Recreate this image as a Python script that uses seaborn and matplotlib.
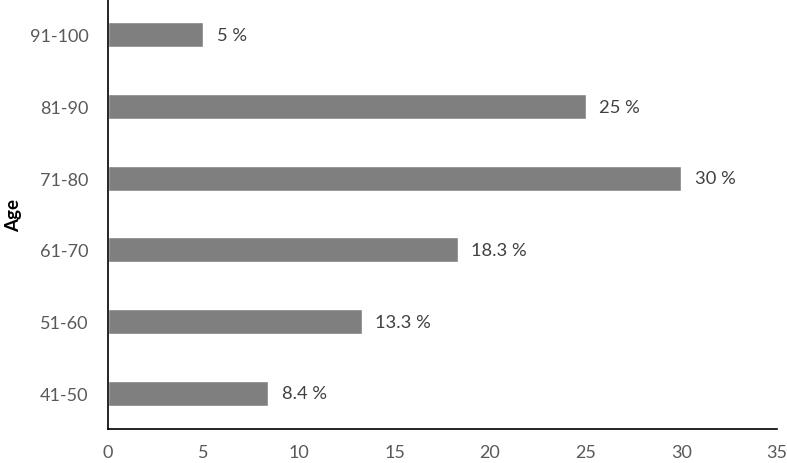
import matplotlib
matplotlib.use("Agg")
import matplotlib.pyplot as plt
import seaborn as sns
import pandas as pd

# Age groups and share of respondents (%)
age_groups = ['91-100', '81-90', '71-80', '61-70', '51-60', '41-50']
shares = [5, 25, 30, 18.3, 13.3, 8.4]
bar_labels = ['5 %', '25 %', '30 %', '18.3 %', '13.3 %', '8.4 %']

df = pd.DataFrame({'Age': age_groups, 'Share': shares})

sns.set_theme(style='white')
plt.rcParams['font.family'] = ['Lato', 'DejaVu Sans']

fig = plt.figure(figsize=(7.87, 4.64), dpi=100)
ax = fig.add_axes([0.137, 0.073, 0.85, 0.927])

sns.barplot(data=df, x='Share', y='Age', order=age_groups, color='#7f7f7f',
            saturation=1, width=0.35, ax=ax)

# Value labels to the right of each bar
for i, (val, lab) in enumerate(zip(shares, bar_labels)):
    ax.text(val + 0.7, i, lab, va='center', ha='left', fontsize=13.2, color='#404040')

ax.set_xlim(0, 35)
ax.set_ylim(5.5, -0.5)
ax.set_xticks(range(0, 36, 5))
ax.tick_params(axis='both', length=0, labelsize=13, colors='#595959')
ax.tick_params(axis='y', pad=14)
ax.tick_params(axis='x', pad=11)
ax.set_xlabel('')
ax.set_ylabel('Age', fontsize=13.5, fontweight='bold', color='black')
ax.yaxis.set_label_coords(-0.128, 0.5)

for side in ['top', 'right']:
    ax.spines[side].set_visible(False)
for side in ['left', 'bottom']:
    ax.spines[side].set_color('black')
    ax.spines[side].set_linewidth(1.2)

fig.savefig('out.png', dpi=100)
